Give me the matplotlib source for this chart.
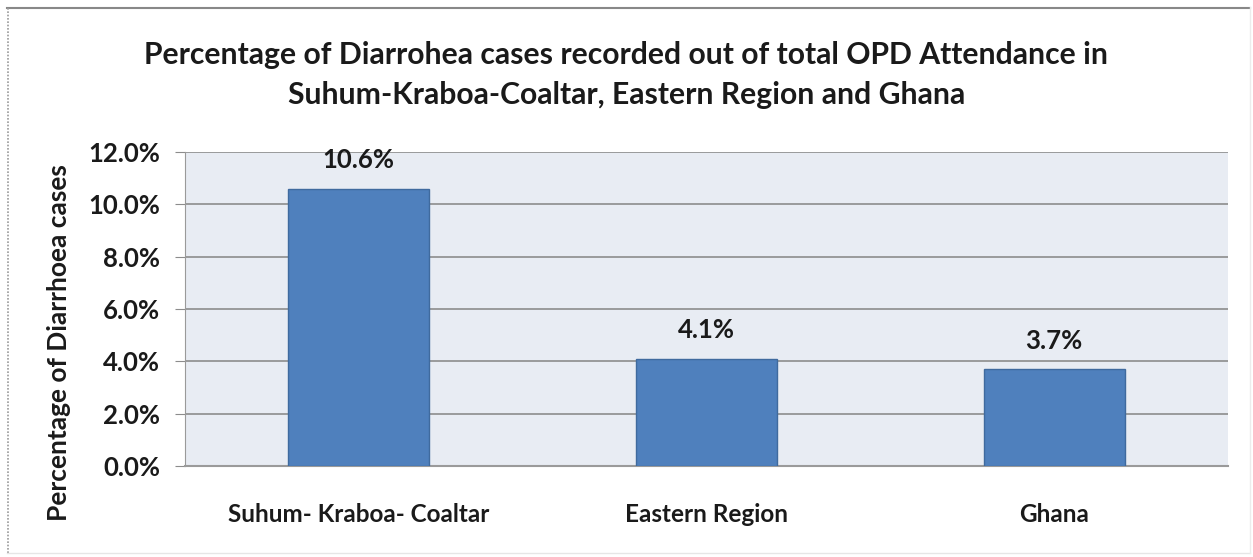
import matplotlib
matplotlib.use("Agg")
import matplotlib.pyplot as plt
from matplotlib.lines import Line2D
from matplotlib.ticker import FuncFormatter, MultipleLocator

categories = ["Suhum- Kraboa- Coaltar", "Eastern Region", "Ghana"]
values = [10.6, 4.1, 3.7]
title = "Percentage of Diarrohea cases recorded out of total OPD Attendance in\nSuhum-Kraboa-Coaltar, Eastern Region and Ghana"
ylabel = "Percentage of Diarrhoea cases"

plt.rcParams['font.family'] = ['Lato', 'DejaVu Sans']

W, H = 1253, 557
fig = plt.figure(figsize=(W / 100, H / 100), dpi=100)
ax = fig.add_axes([185 / W, 1 - 466 / H, (1228 - 185) / W, (466 - 152) / H])

ax.set_facecolor("#e8ecf3")
x = list(range(len(categories)))
ax.bar(x, values, width=0.405, color="#4f80bd", edgecolor="#3f6a9e", linewidth=1.0, zorder=3)
ax.set_xlim(-0.5, len(categories) - 0.5)
ax.set_ylim(0, 12)
ax.yaxis.set_major_locator(MultipleLocator(2))
ax.yaxis.set_major_formatter(FuncFormatter(lambda v, p: f"{v:.1f}%"))
ax.grid(axis="y", color="#8c8c8c", linewidth=1.2, zorder=1)
for s in ["top", "right"]:
    ax.spines[s].set_visible(False)
ax.spines["left"].set_color("#9a9a9a")
ax.spines["bottom"].set_color("#9a9a9a")
ax.spines["bottom"].set_linewidth(1.5)
ax.tick_params(axis="y", length=7, color="#8c8c8c", labelsize=18.5, pad=11)
ax.tick_params(axis="x", length=0, labelsize=17.5, pad=27)
ax.set_xticks(x)
ax.set_xticklabels(categories)
for lab in ax.get_yticklabels() + ax.get_xticklabels():
    lab.set_fontweight("bold")
    lab.set_color("#1a1a1a")

for xi, v in zip(x, values):
    ax.annotate(f"{v:.1f}%", (xi, v), xytext=(0, 12), textcoords="offset points",
                ha="center", va="bottom", fontsize=18.5, fontweight="bold", color="#1a1a1a")

fig.text(0.5, 1 - 75 / H, title, ha="center", va="center", fontsize=21.7,
         fontweight="bold", color="#1a1a1a", linespacing=1.5)
fig.text(59 / W, 1 - 343 / H, ylabel, rotation=90, ha="center", va="center",
         fontsize=19, fontweight="bold", color="#1a1a1a")

# figure border
fig.add_artist(Line2D([7 / W, 1250 / W], [1 - 7.5 / H, 1 - 7.5 / H], transform=fig.transFigure, color="#888888", lw=1.5))
fig.add_artist(Line2D([7.5 / W, 7.5 / W], [1 - 553 / H, 1 - 7 / H], transform=fig.transFigure, color="#999999", lw=1.2, ls=(0, (1, 1))))
fig.add_artist(Line2D([7 / W, 1250 / W], [1 - 553 / H, 1 - 553 / H], transform=fig.transFigure, color="#e6e6e6", lw=1.0))
fig.add_artist(Line2D([1250 / W, 1250 / W], [1 - 553 / H, 1 - 7 / H], transform=fig.transFigure, color="#ececec", lw=1.0))

fig.savefig("out.png", dpi=100)
